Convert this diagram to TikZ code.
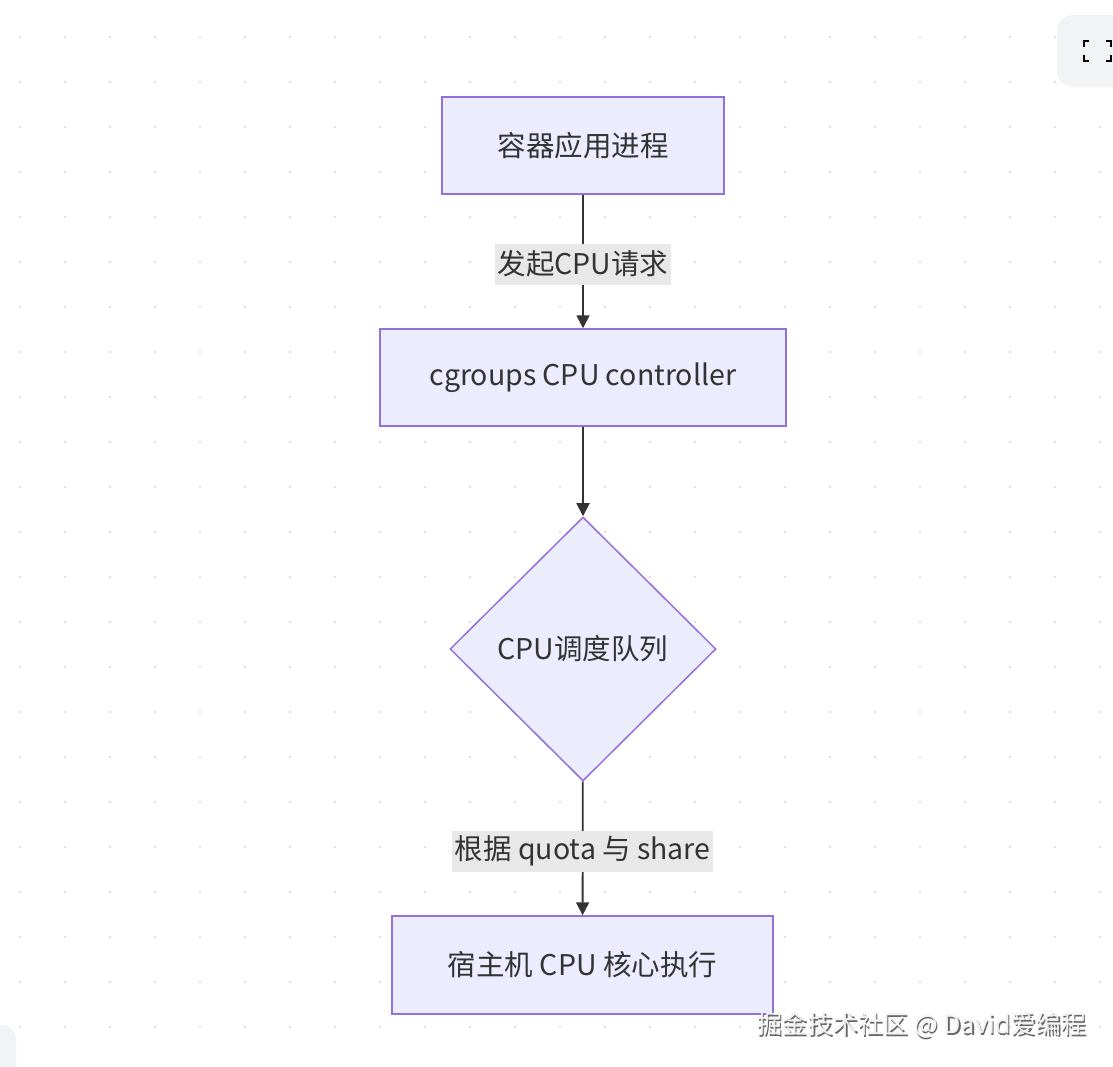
\documentclass[tikz,border=0pt]{standalone}
\usepackage{fontspec}
\setmainfont{Noto Sans CJK SC}
\usetikzlibrary{shapes.geometric,arrows.meta}
\definecolor{nodefill}{HTML}{ECECFF}
\definecolor{nodeline}{HTML}{9370DB}
\definecolor{ink}{HTML}{333333}
\definecolor{lblbg}{HTML}{E8E8E8}
\definecolor{dotc}{HTML}{DEDEDE}
\definecolor{btnbg}{HTML}{F2F3F5}
\tikzset{
  procbox/.style={draw=nodeline, fill=nodefill, line width=1.5pt, inner sep=0pt,
    text=ink, font=\fontsize{28.5}{34}\selectfont},
  decision/.style={diamond, draw=nodeline, fill=nodefill, line width=1.5pt, inner sep=0pt,
    text=ink, font=\fontsize{28.5}{34}\selectfont},
  edgelbl/.style={fill=lblbg, text=ink, inner xsep=2.5pt, inner ysep=0pt, minimum height=41pt,
    font=\fontsize{28.5}{34}\selectfont},
  flow/.style={draw=ink, line width=1.8pt, -{Triangle[width=13pt,length=13pt]}},
  wmark/.style={font=\fontsize{25.2}{28}\selectfont, anchor=west, inner sep=0pt}
}
\begin{document}
\begin{tikzpicture}[x=1pt,y=-1pt]
\useasboundingbox (0,0) rectangle (1113,1066);
\fill[white] (0,0) rectangle (1113,1066);
% dot grid
\foreach \i in {0,...,24} {
  \foreach \j in {0,...,23} {
    \fill[dotc] (20+45*\i,37+45*\j) circle (1.4pt);
  }
}
% top-right button
\fill[btnbg] (1057,15) [rounded corners=16pt] rectangle (1140,87);
\begin{scope}[draw=black, line width=2.4pt]
  \draw (1089,41) -- (1084,41) -- (1084,47);
  \draw (1084,55) -- (1084,61) -- (1089,61);
  \draw (1106,41) -- (1111,41) -- (1111,47);
  \draw (1106,61) -- (1111,61) -- (1111,55);
\end{scope}
% bottom-left button edge
\fill[btnbg] (-40,1025) [rounded corners=14pt] rectangle (16,1100);

% nodes
\node[procbox, minimum width=282pt, minimum height=97pt] (app) at (583,145.5) {容器应用进程};
\node[procbox, minimum width=406pt, minimum height=97pt] (cg) at (583,377.5) {cgroups CPU controller};
\node[decision, minimum width=266pt, minimum height=264pt] (q) at (583,649) {CPU调度队列};
\node[procbox, minimum width=381pt, minimum height=98pt] (core) at (582.5,965) {宿主机 CPU 核心执行};

% edges
\draw[flow] (app) -- (cg) node[edgelbl, pos=0.52] (l1) {发起CPU请求};
\draw[flow] (cg) -- (q);
\draw[flow] (q) -- (core) node[edgelbl, pos=0.52] (l2) {根据 quota 与 share};

% watermark
\node[wmark, text=black!60] (wm0) at (758.5,1026.5) {掘金技术社区 @ David爱编程};
\node[wmark, text=white!95!black] (wm) at (757,1025) {掘金技术社区 @ David爱编程};
\end{tikzpicture}
\end{document}
